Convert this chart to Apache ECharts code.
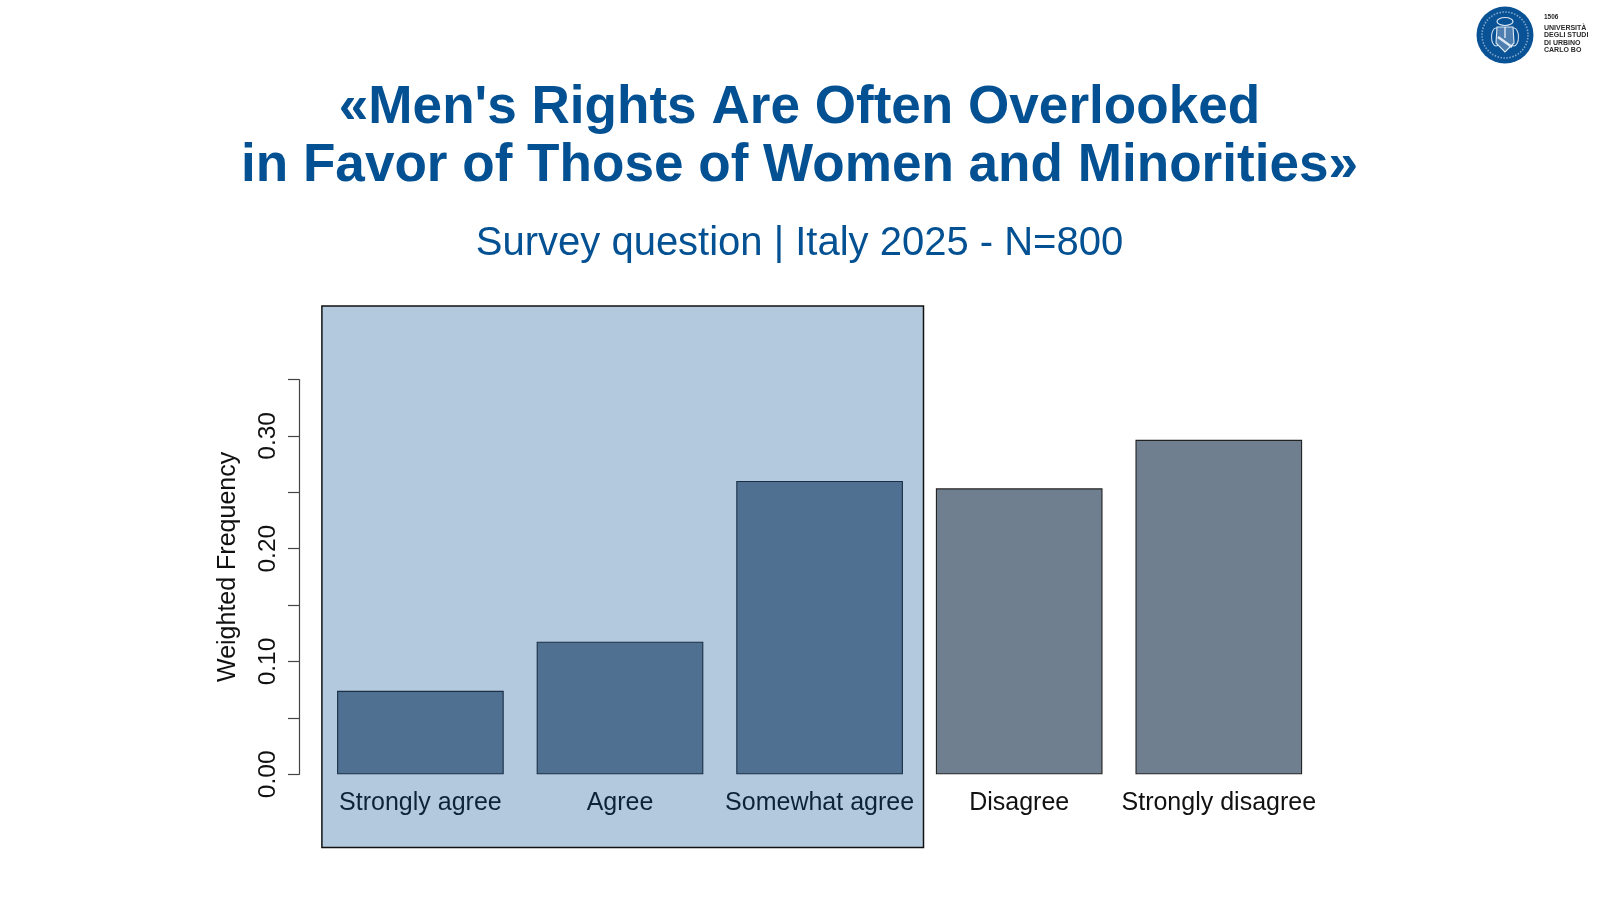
<!DOCTYPE html>
<html><head><meta charset="utf-8">
<style>html,body{margin:0;padding:0;background:#fff}#c{width:1600px;height:900px}</style>
<script src="https://cdn.jsdelivr.net/npm/echarts@6/dist/echarts.min.js"></script></head>
<body><div id="c"></div>
<script>
const categories = ['Strongly agree','Agree','Somewhat agree','Disagree','Strongly disagree'];
const values = [0.074,0.1175,0.26,0.2535,0.2965];
const titleLines = "«Men's Rights Are Often Overlooked\nin Favor of Those of Women and Minorities»";
const subtitle = 'Survey question | Italy 2025 - N=800';
const yLabelled = ['0.00','0.10','0.20','0.30'];
const logoLines = ['1506','UNIVERSITÀ','DEGLI STUDI','DI URBINO','CARLO BO'];
const FONT = '"Liberation Sans", Arial, sans-serif';
const BLUE = '#035192';
const inBox = 3;
const chart = echarts.init(document.getElementById('c'), null, {renderer:'canvas'});
const logoText = logoLines.map((t,i)=>({type:'text',x:1544,y:[17.5,28,35.5,43,50.5][i],
  style:{text:t,font:(i===0?'bold 6.5px ':'bold 7px ')+FONT,fill:'#2a2a2a',textVerticalAlign:'middle'}}));
chart.setOption({
  animation:false,
  backgroundColor:'#fff',
  title:[
    {text:titleLines,left:794.5,top:74,textAlign:'center',
     textStyle:{fontFamily:FONT,fontWeight:'bold',fontSize:53.1,lineHeight:58,color:BLUE}},
    {text:subtitle,left:794.5,top:219,textAlign:'center',
     textStyle:{fontFamily:FONT,fontWeight:'normal',fontSize:40,color:BLUE}}
  ],
  grid:{left:320.6,width:998,top:379.5,height:394.8,containLabel:false},
  xAxis:{type:'category',data:categories,
    axisLine:{show:false},axisTick:{show:false},
    axisLabel:{fontFamily:FONT,fontSize:25,margin:16.5,interval:0,
      color:(v,i)=> i<inBox ? '#0f2338' : '#111'}},
  yAxis:{type:'value',min:0,max:0.35,interval:0.05,
    splitLine:{show:false},
    axisLine:{show:true,lineStyle:{color:'#444',width:1.2}},
    axisTick:{show:true,length:11,lineStyle:{color:'#444',width:1.2}},
    offset:21.6,
    name:'Weighted Frequency',nameLocation:'middle',nameRotate:90,nameGap:58,
    nameTextStyle:{fontFamily:FONT,fontSize:25,color:'#111',padding:[0,0,0,20]},
    axisLabel:{rotate:90,fontFamily:FONT,fontSize:24.5,color:'#111',margin:18,
      align:'center',verticalAlign:'bottom',
      formatter:v=>{const s=v.toFixed(2);return yLabelled.includes(s)?s:'';}}},
  series:[{type:'bar',barWidth:'83.5%',
    data:values.map((v,i)=>({value:v,itemStyle:{
      color:i<inBox?'#4f7090':'#707f8f',
      borderColor:i<inBox?'#1a2f45':'#222',borderWidth:1.1}}))}],
  graphic:[
    {type:'rect',z:-10,shape:{x:321.9,y:306,width:601.6,height:541.5},
     style:{fill:'#b3c9de',stroke:'#111',lineWidth:1.5}},
    {type:'circle',shape:{cx:1505,cy:35,r:28.5},style:{fill:'#0a5296'}},
    {type:'circle',shape:{cx:1505,cy:35,r:23},style:{fill:'none',stroke:'#7fa6cc',lineWidth:1.6,lineDash:[1.5,1.5]}},
    {type:'ellipse',shape:{cx:1496,cy:37,rx:4.5,ry:9},style:{fill:'none',stroke:'#c6d8ea',lineWidth:1.1}},
    {type:'ellipse',shape:{cx:1514,cy:37,rx:4.5,ry:9},style:{fill:'none',stroke:'#c6d8ea',lineWidth:1.1}},
    {type:'polygon',shape:{points:[[1497,27],[1513,27],[1514,43],[1505,52],[1496,43]]},style:{fill:'#4f7fb0',stroke:'#e0eaf4',lineWidth:1.1}},
    {type:'line',shape:{x1:1498,y1:37,x2:1512,y2:47},style:{stroke:'#e0eaf4',lineWidth:2.4}},
    {type:'ellipse',shape:{cx:1505,cy:21.5,rx:8,ry:4},style:{fill:'none',stroke:'#dbe6f2',lineWidth:1.2}},
    {type:'line',shape:{x1:1505,y1:27,x2:1505,y2:38},style:{stroke:'#e0eaf4',lineWidth:1.4}},
    ...logoText
  ]
});
</script></body></html>
